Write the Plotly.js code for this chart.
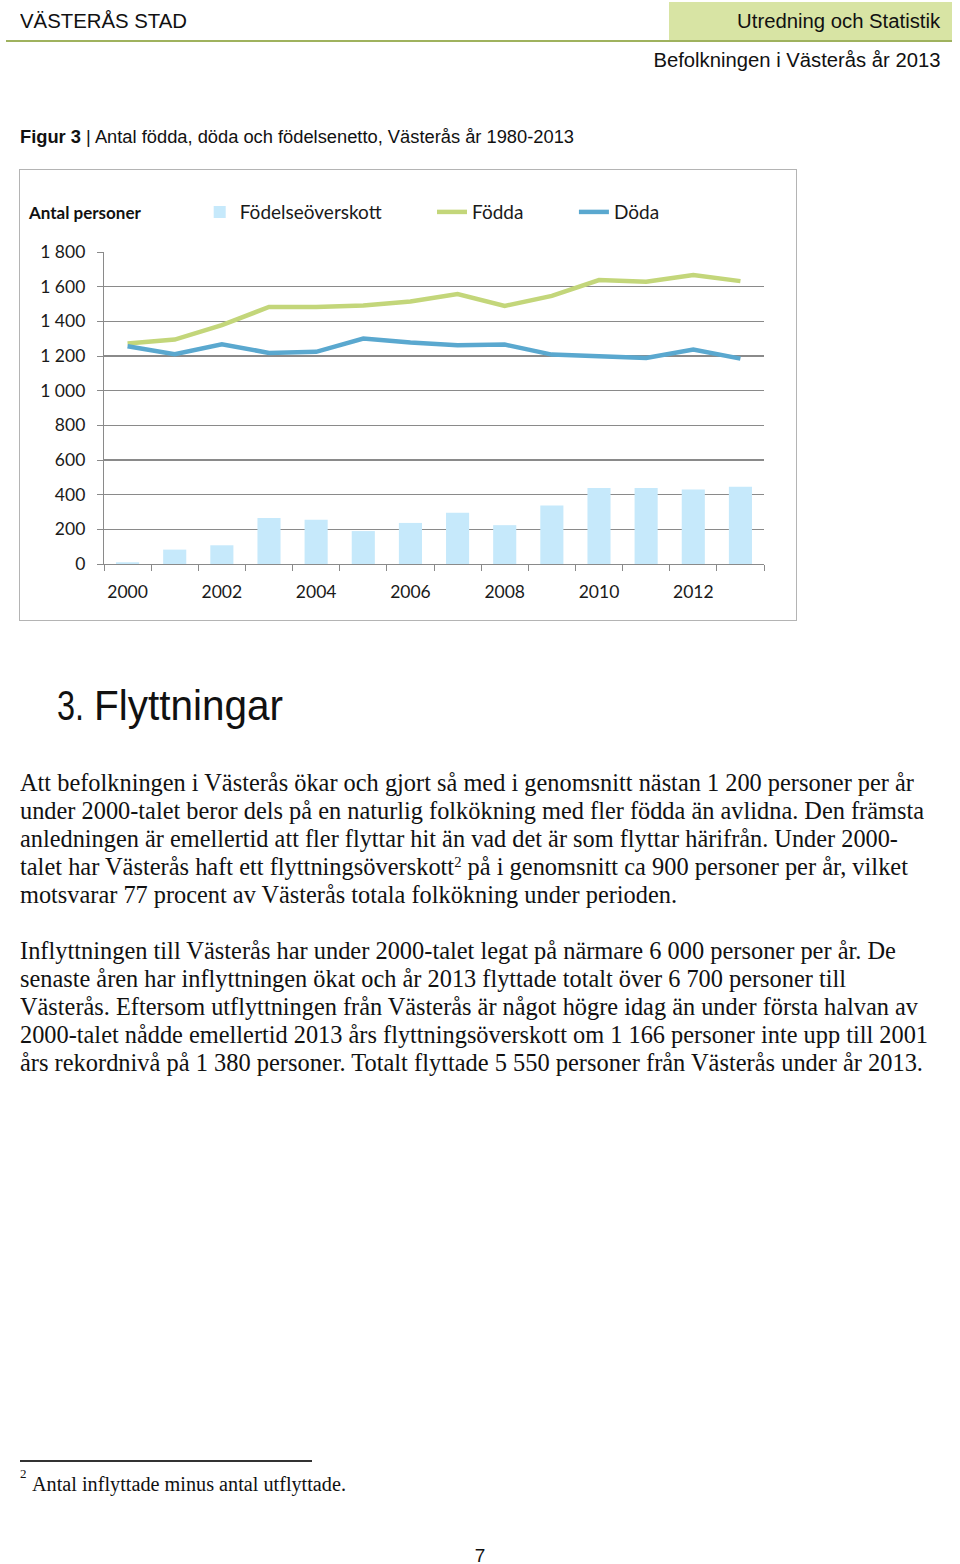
<!DOCTYPE html>
<html>
<head>
<meta charset="utf-8">
<script src="https://cdn.plot.ly/plotly-3.0.1.min.js"></script>
<style>
  html, body { margin:0; padding:0; background:#fff; }
  body { width:960px; height:1564px; position:relative; overflow:hidden; }
  .abs { position:absolute; white-space:nowrap; }
  .sans { font-family:"Liberation Sans", Arial, sans-serif; color:#111; }
  .serif { font-family:"Liberation Serif", "Times New Roman", serif; color:#111; }
  .fit { transform-origin:left center; }
  .fitr { transform-origin:right center; }
  sup { font-size:60%; vertical-align:0; position:relative; top:-0.55em; line-height:0; }
  #chartbox { position:absolute; left:19px; top:169px; width:776px; height:450px; border:1px solid #b4b4b4; }
</style>
</head>
<body>
<!-- header -->
<div class="abs sans fit" style="left:20px; top:9px; font-size:19.5px; line-height:24px;" data-w="167">VÄSTERÅS STAD</div>
<div class="abs" style="left:669px; top:2px; width:283px; height:38px; background:#d8e4a4;"></div>
<div class="abs sans fitr" style="right:20px; top:9px; font-size:20px; line-height:24px;" data-w="203">Utredning och Statistik</div>
<div class="abs" style="left:6px; top:40px; width:946px; height:2px; background:#9fb25e;"></div>
<div class="abs sans fitr" style="right:20px; top:48px; font-size:19.5px; line-height:24px;" data-w="287">Befolkningen i Västerås år 2013</div>

<div class="abs sans fit" style="left:20px; top:126px; font-size:17.5px; line-height:22px;" data-w="554"><b>Figur 3</b> | Antal födda, döda och födelsenetto, Västerås år 1980-2013</div>

<div id="chartbox"><div id="chart" style="width:776px;height:450px;"></div></div>

<!-- section heading -->
<div class="abs sans fit" style="left:57px; top:680px; font-size:43px; line-height:50px;" data-w="27">3.</div>
<div class="abs sans fit" style="left:94px; top:680px; font-size:43px; line-height:50px;" data-w="189">Flyttningar</div>

<!-- body text -->
<div class="abs serif fit" style="left:20px; top:769px; font-size:25px; line-height:28px;" data-w="894">Att befolkningen i Västerås ökar och gjort så med i genomsnitt nästan 1 200 personer per år</div>
<div class="abs serif fit" style="left:20px; top:797px; font-size:25px; line-height:28px;" data-w="904">under 2000-talet beror dels på en naturlig folkökning med fler födda än avlidna. Den främsta</div>
<div class="abs serif fit" style="left:20px; top:825px; font-size:25px; line-height:28px;" data-w="878">anledningen är emellertid att fler flyttar hit än vad det är som flyttar härifrån. Under 2000-</div>
<div class="abs serif fit" style="left:20px; top:853px; font-size:25px; line-height:28px;" data-w="888">talet har Västerås haft ett flyttningsöverskott<sup>2</sup> på i genomsnitt ca 900 personer per år, vilket</div>
<div class="abs serif fit" style="left:20px; top:881px; font-size:25px; line-height:28px;" data-w="657">motsvarar 77 procent av Västerås totala folkökning under perioden.</div>

<div class="abs serif fit" style="left:20px; top:937px; font-size:25px; line-height:28px;" data-w="876">Inflyttningen till Västerås har under 2000-talet legat på närmare 6 000 personer per år. De</div>
<div class="abs serif fit" style="left:20px; top:965px; font-size:25px; line-height:28px;" data-w="826">senaste åren har inflyttningen ökat och år 2013 flyttade totalt över 6 700 personer till</div>
<div class="abs serif fit" style="left:20px; top:993px; font-size:25px; line-height:28px;" data-w="898">Västerås. Eftersom utflyttningen från Västerås är något högre idag än under första halvan av</div>
<div class="abs serif fit" style="left:20px; top:1021px; font-size:25px; line-height:28px;" data-w="908">2000-talet nådde emellertid 2013 års flyttningsöverskott om 1 166 personer inte upp till 2001</div>
<div class="abs serif fit" style="left:20px; top:1049px; font-size:25px; line-height:28px;" data-w="903">års rekordnivå på 1 380 personer. Totalt flyttade 5 550 personer från Västerås under år 2013.</div>

<!-- footnote -->
<div class="abs" style="left:20px; top:1460px; width:292px; height:2px; background:#333;"></div>
<div class="abs serif" style="left:20px; top:1467px; font-size:13px; line-height:14px;">2</div>
<div class="abs serif fit" style="left:32px; top:1473px; font-size:20px; line-height:22px;" data-w="314">Antal inflyttade minus antal utflyttade.</div>

<div class="abs sans" style="left:0; width:960px; text-align:center; top:1545px; font-size:19px; line-height:22px;">7</div>

<script>
// ---- data ----
var years = [2000, 2001, 2002, 2003, 2004, 2005, 2006, 2007, 2008, 2009, 2010, 2011, 2012, 2013];
var fodda = [1272, 1295, 1378, 1483, 1482, 1492, 1515, 1557, 1489, 1547, 1638, 1628, 1667, 1632];
var doda  = [1256, 1210, 1268, 1218, 1224, 1301, 1278, 1262, 1266, 1208, 1199, 1189, 1237, 1185];
var fodelseoverskott = [10, 83, 108, 266, 255, 190, 237, 295, 224, 338, 438, 438, 430, 446];
var xTickVals = [2000, 2002, 2004, 2006, 2008, 2010, 2012];
var xTickText = ["2000", "2002", "2004", "2006", "2008", "2010", "2012"];
var yTickVals = [0, 200, 400, 600, 800, 1000, 1200, 1400, 1600, 1800];
var yTickText = ["0", "200", "400", "600", "800", "1 000", "1 200", "1 400", "1 600", "1 800"];
var seriesNames = ["Födelseöverskott", "Födda", "Döda"];
var yTitle = "Antal personer";

var FAM = "Lato, 'Open Sans', sans-serif";
var TICKFONT = {family: FAM, size: 17.5, color: "#1a1a1a"};
var LEGFONT = {family: FAM, size: 19, color: "#1a1a1a"};
var GRID = "#8a8a8a";

var traces = [
  {type: "bar", x: years, y: fodelseoverskott, name: seriesNames[0],
   marker: {color: "#c6e9fb"}, width: 0.49, legend: "legend", hoverinfo: "skip"},
  {type: "scatter", mode: "lines", x: years, y: fodda, name: seriesNames[1],
   line: {color: "#c3d67a", width: 4.5}, legend: "legend2"},
  {type: "scatter", mode: "lines", x: years, y: doda, name: seriesNames[2],
   line: {color: "#5aa8cf", width: 4.5}, legend: "legend3"}
];

function leg(x) {
  return {x: x, y: 1.128, xanchor: "left", yanchor: "middle", orientation: "h",
          font: LEGFONT, bgcolor: "rgba(0,0,0,0)", borderwidth: 0};
}

var layout = {
  width: 776, height: 450,
  margin: {l: 84, r: 32, t: 82, b: 56, pad: 0},
  paper_bgcolor: "#fff", plot_bgcolor: "#fff",
  font: TICKFONT,
  showlegend: true,
  legend: leg(0.145),
  legend2: leg(0.497),
  legend3: leg(0.712),
  xaxis: {
    type: "linear", range: [1999.5, 2013.5], fixedrange: true,
    tickmode: "array", tickvals: xTickVals, ticktext: xTickText,
    ticks: "", showgrid: false, zeroline: false,
    showline: true, linecolor: GRID, linewidth: 1,
    ticklabelstandoff: 12,
    minor: {tickmode: "linear", tick0: 1999.5, dtick: 1, ticks: "outside", ticklen: 6, tickcolor: GRID, tickwidth: 1, showgrid: false},
    tickfont: TICKFONT
  },
  yaxis: {
    range: [0, 1800], fixedrange: true,
    tickmode: "array", tickvals: yTickVals, ticktext: yTickText,
    ticks: "outside", ticklen: 6, tickcolor: GRID, tickwidth: 1,
    showgrid: true, gridcolor: GRID, gridwidth: 1.2,
    zeroline: false, showline: true, linecolor: GRID, linewidth: 1.2,
    ticklabelstandoff: 8,
    tickfont: TICKFONT
  },
  annotations: [
    {text: "<b>" + yTitle + "</b>", xref: "paper", yref: "paper", x: -0.118, y: 1.128,
     xanchor: "left", yanchor: "middle", showarrow: false,
     font: {family: FAM, size: 17, color: "#111"}}
  ]
};

Plotly.newPlot("chart", traces, layout, {displayModeBar: false, staticPlot: true});

// fit text lines to the widths measured in the reference
function fitAll() {
  var els = document.querySelectorAll("[data-w]");
  els.forEach(function (el) {
    el.style.transform = "none";
    var w = el.getBoundingClientRect().width;
    var target = parseFloat(el.getAttribute("data-w"));
    if (w > 0) el.style.transform = "scaleX(" + (target / w).toFixed(4) + ")";
  });
}
fitAll();
if (document.fonts && document.fonts.ready) document.fonts.ready.then(fitAll);
</script>
</body>
</html>
